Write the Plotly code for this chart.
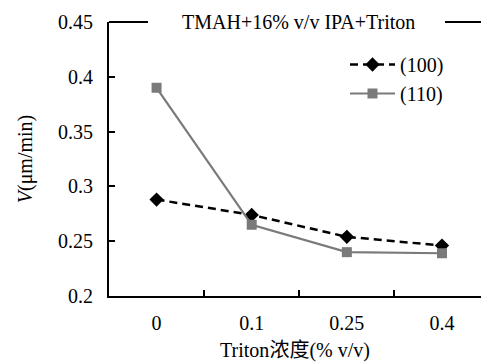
import plotly.graph_objects as go

categories = ["0", "0.1", "0.25", "0.4"]
s100 = [0.288, 0.274, 0.254, 0.246]
s110 = [0.390, 0.265, 0.240, 0.239]
yticks = [0.2, 0.25, 0.3, 0.35, 0.4, 0.45]
yticklabels = ["0.2", "0.25", "0.3", "0.35", "0.4", "0.45"]

SERIF = "'Liberation Serif', 'Times New Roman', 'DejaVu Serif', serif"
FS = 20

L, T, B = 109, 22, 68
W, H = 481, 364
PW = W - L

fig = go.Figure()
fig.add_trace(go.Scatter(
    x=categories, y=s100, name="(100)", mode="lines+markers",
    line=dict(color="black", width=2.5, dash="8px,5px"),
    marker=dict(symbol="diamond", size=11, color="black"),
))
fig.add_trace(go.Scatter(
    x=categories, y=s110, name="(110)", mode="lines+markers",
    line=dict(color="#7a7a7a", width=2.2),
    marker=dict(symbol="square", size=10, color="#7a7a7a"),
))

fig.update_layout(
    width=W, height=H,
    margin=dict(l=L, r=0, t=T, b=B),
    paper_bgcolor="white", plot_bgcolor="white",
    font=dict(family=SERIF, size=FS, color="black"),
    showlegend=True,
    legend=dict(x=(345 - L) / PW, y=1 - (45 - T) / (H - T - B), xanchor="left", yanchor="top",
                bgcolor="rgba(0,0,0,0)", font=dict(size=FS, family=SERIF),
                itemwidth=45, tracegroupgap=0),
    xaxis=dict(
        type="category", range=[-0.5, 3.41],
        showline=True, linecolor="black", linewidth=2,
        ticks="inside", ticklen=6, tickwidth=2, tickcolor="black",
        tickson="boundaries", showgrid=False, zeroline=False,
        title=dict(text="Triton<span style='font-family:Noto Sans CJK SC'>浓度</span>(% v/v)",
                   font=dict(size=FS, family=SERIF), standoff=6),
        ticklabelstandoff=8,
    ),
    yaxis=dict(
        range=[0.2, 0.45], tickvals=yticks, ticktext=yticklabels,
        showline=True, linecolor="black", linewidth=2,
        ticks="inside", ticklen=6, tickwidth=2, tickcolor="black",
        showgrid=False, zeroline=False,
        title=dict(text="<i>V</i>(μm/min)", font=dict(size=FS, family=SERIF), standoff=20),
        ticklabelstandoff=10,
    ),
    shapes=[
        dict(type="line", xref="paper", yref="paper", x0=0, x1=(148 - L) / PW, y0=1, y1=1,
             line=dict(color="black", width=2)),
        dict(type="line", xref="paper", yref="paper", x0=(445 - L) / PW, x1=1, y0=1, y1=1,
             line=dict(color="black", width=2)),
    ],
    annotations=[dict(
        x=(298 - L) / PW, y=1.0, xref="paper", yref="paper",
        text="TMAH+16% v/v IPA+Triton", showarrow=False,
        xanchor="center", yanchor="middle",
        font=dict(size=FS, family=SERIF),
    )],
)

fig.write_html("out.html")
